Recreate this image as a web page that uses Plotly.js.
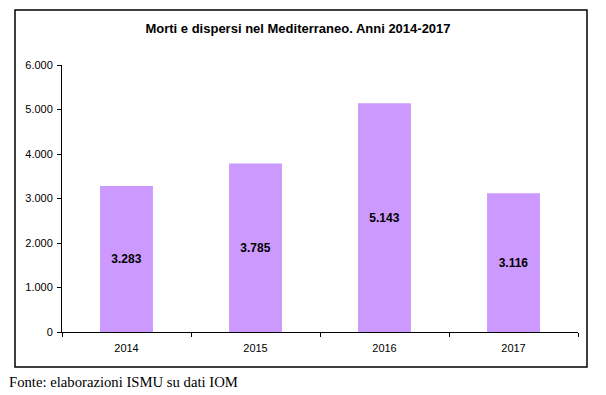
<!DOCTYPE html>
<html>
<head>
<meta charset="utf-8">
<script src="https://cdn.plot.ly/plotly-3.0.1.min.js"></script>
<style>html,body{margin:0;padding:0;background:#fff;}#chart{width:606px;height:395px;}</style>
</head>
<body>
<div id="chart"></div>
<script>
var years = ['2014', '2015', '2016', '2017'];
var deaths = [3283, 3785, 5143, 3116];
var yTicks = [0, 1000, 2000, 3000, 4000, 5000, 6000];

var L = 62, R = 578, T = 65, B = 332, W = 606, H = 395;
function px(x){ return (x - L) / (R - L); }
function py(y){ return (B - y) / (B - T); }

var trace = {
  type: 'bar',
  x: years,
  y: deaths,
  marker: {color: '#CC99FF', line: {width: 0}},
  texttemplate: '%{y:,}',
  textposition: 'inside',
  insidetextanchor: 'middle',
  textangle: 0,
  textfont: {family: 'Liberation Sans, Arial, sans-serif', size: 12, color: '#000', weight: 'bold'},
  hoverinfo: 'none'
};

var layout = {
  width: W, height: H,
  margin: {l: L, r: W - R, t: T, b: H - B, pad: 0},
  paper_bgcolor: '#fff', plot_bgcolor: '#fff',
  separators: ',.',
  bargap: 0.59,
  showlegend: false,
  font: {family: 'Liberation Sans, Arial, sans-serif', size: 11, color: '#000'},
  title: {
    text: '<b>Morti e dispersi nel Mediterraneo. Anni 2014-2017</b>',
    font: {family: 'Liberation Sans, Arial, sans-serif', size: 13, color: '#000'},
    xref: 'container', yref: 'container',
    x: 298 / W, y: 1 - 28 / H, xanchor: 'center', yanchor: 'middle'
  },
  xaxis: {
    type: 'category',
    showline: true, linecolor: '#000', linewidth: 1,
    ticks: 'outside', tickson: 'boundaries', ticklen: 4, tickcolor: '#000',
    showgrid: false, zeroline: false,
    tickfont: {size: 11}, ticklabelstandoff: 6, fixedrange: true
  },
  yaxis: {
    range: [0, 6000],
    tickvals: yTicks,
    tickformat: ',d',
    showline: true, linecolor: '#000', linewidth: 1,
    ticks: 'outside', ticklen: 4, tickcolor: '#000',
    showgrid: false, zeroline: false,
    tickfont: {size: 11}, ticklabelstandoff: 2, fixedrange: true
  },
  shapes: [{
    type: 'rect', xref: 'paper', yref: 'paper', layer: 'below',
    x0: px(15), x1: px(587), y0: py(367), y1: py(10),
    line: {color: '#000', width: 1.5}, fillcolor: 'rgba(0,0,0,0)'
  }],
  annotations: [{
    text: 'Fonte: elaborazioni ISMU su dati IOM',
    xref: 'paper', yref: 'paper', x: px(7), y: py(382),
    xanchor: 'left', yanchor: 'middle', showarrow: false,
    font: {family: 'Liberation Serif, Times New Roman, serif', size: 14.7, color: '#000'}
  }]
};

Plotly.newPlot('chart', [trace], layout, {displayModeBar: false, staticPlot: true});
</script>
</body>
</html>
